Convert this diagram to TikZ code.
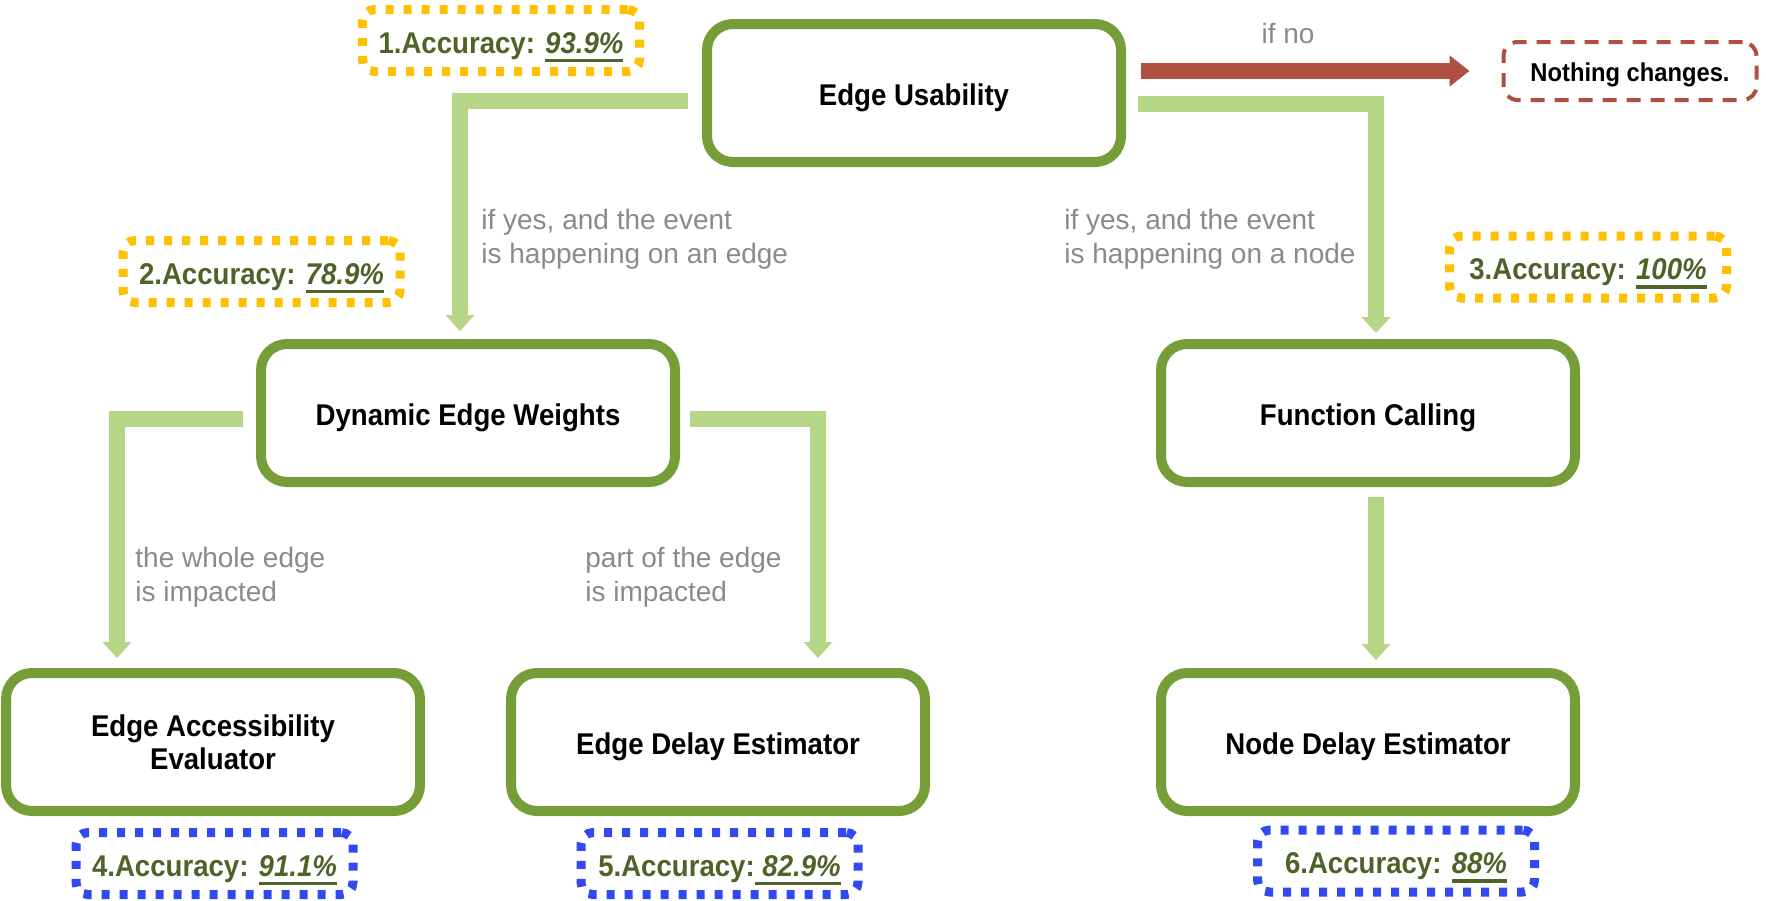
\documentclass[tikz,border=0pt]{standalone}
\usepackage{fontspec}
\setmainfont{Liberation Sans}
\newfontfamily\condf[FakeStretch=0.92]{Liberation Sans}
\usetikzlibrary{arrows.meta}
\definecolor{boxgreen}{RGB}{118,157,56}
\definecolor{lightgreen}{RGB}{181,213,135}
\definecolor{arrowred}{RGB}{175,79,66}
\definecolor{accyellow}{RGB}{255,192,0}
\definecolor{accblue}{RGB}{51,73,240}
\definecolor{acctext}{RGB}{79,98,40}
\definecolor{labelgray}{RGB}{138,138,138}
\newcommand\accul[1]{\setbox0\hbox{#1}\rlap{\raisebox{-4.5pt}{\rule{\wd0}{1.6pt}}}\box0}
\tikzset{
  mainbox/.style={draw=boxgreen, line width=5pt, rounded corners=13pt, fill=white,
    minimum width=207pt, minimum height=69pt, align=center, inner sep=0pt,
    font=\condf\bfseries\fontsize{15}{16.5}\selectfont},
  oneline/.style={text height=12.5pt, text depth=0pt},
  accbox/.style={line width=4.5pt, dash pattern=on 4pt off 5pt, rounded corners=6pt,
    minimum width=138.5pt, minimum height=31pt, inner sep=0pt, text=acctext,
    text height=12.5pt, text depth=0pt,
    font=\condf\bfseries\fontsize{15}{18}\selectfont},
  yellowacc/.style={accbox, draw=accyellow},
  blueacc/.style={accbox, draw=accblue},
  nothingbox/.style={draw=arrowred, line width=2pt, dash pattern=on 7pt off 5pt,
    rounded corners=7pt, minimum width=126.5pt, minimum height=29pt, inner sep=0pt,
    text height=10.5pt, text depth=0pt,
    font=\condf\bfseries\fontsize{12.9}{15}\selectfont},
  lbl/.style={text=labelgray, align=left, inner sep=0pt, anchor=west,
    font=\fontsize{14}{17}\selectfont},
  conn/.style={draw=lightgreen, line width=8pt, -{Triangle[width=14pt,length=8pt]}},
  redarrow/.style={draw=arrowred, line width=8pt, -{Triangle[width=15pt,length=10pt]}}
}
\begin{document}
\begin{tikzpicture}[x=0.5pt,y=-0.5pt]
\useasboundingbox (0,0) rectangle (1766,900);
% main boxes
\node[mainbox, oneline] (EU) at (914,93) {Edge Usability};
\node[mainbox, oneline] (DEW) at (468,413) {Dynamic Edge Weights};
\node[mainbox, oneline] (FC) at (1368,413) {Function Calling};
\node[mainbox] (EAE) at (213,742) {Edge Accessibility\\Evaluator};
\node[mainbox, oneline] (EDE) at (718,742) {Edge Delay Estimator};
\node[mainbox, oneline] (NDE) at (1368,742) {Node Delay Estimator};
\node[nothingbox] (NC) at (1630,71) {Nothing changes.};
% accuracy boxes
\node[yellowacc] (A1) at (501,40.5) {1.Accuracy: \accul{\textit{93.9\%}}};
\node[yellowacc] (A2) at (261.5,271.5) {2.Accuracy: \accul{\textit{78.9\%}}};
\node[yellowacc] (A3) at (1588,267) {3.Accuracy: \accul{\textit{100\%}}};
\node[blueacc] (A4) at (214.5,863.5) {4.Accuracy: \accul{\textit{91.1\%}}};
\node[blueacc] (A5) at (719.5,863.5) {5.Accuracy:\accul{\ \textit{82.9\%}}};
\node[blueacc] (A6) at (1396,861) {6.Accuracy: \accul{\textit{88\%}}};
% labels
\node[lbl, anchor=center] (L0) at (1288,33) {if no};
\node[lbl] (L1) at (481,239.5) {if yes, and the event\\is happening on an edge};
\node[lbl] (L2) at (1064,239.5) {if yes, and the event\\is happening on a node};
\node[lbl] (L3) at (135,577) {the whole edge\\is impacted};
\node[lbl] (L4) at (585,577) {part of the edge\\is impacted};
% connectors
\draw[conn] ([xshift=-7pt,yshift=-4pt]EU.west) -| ([xshift=-4pt,yshift=4pt]DEW.north);
\draw[conn] ([xshift=6pt,yshift=-5.5pt]EU.east) -| ([xshift=4pt,yshift=3pt]FC.north);
\draw[redarrow] ([xshift=7.5pt,yshift=11pt]EU.east) -- ([xshift=-16pt]NC.west);
\draw[conn] ([xshift=-6.5pt,yshift=-3pt]DEW.west) -| ([xshift=-48pt,yshift=5pt]EAE.north);
\draw[conn] ([xshift=5pt,yshift=-3pt]DEW.east) -| ([xshift=50pt,yshift=5pt]EDE.north);
\draw[conn] ([xshift=4pt,yshift=-5pt]FC.south) -- ([xshift=4pt,yshift=4pt]NDE.north);
\end{tikzpicture}
\end{document}
